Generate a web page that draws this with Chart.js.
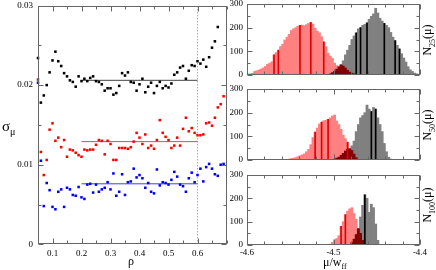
<!DOCTYPE html>
<html>
<head>
<meta charset="utf-8">
<script src="https://cdn.jsdelivr.net/npm/chart.js@4.4.1/dist/chart.umd.min.js"></script>
<style>
  body { margin: 0; background: #fff; }
  #wrap { position: relative; width: 436px; height: 270px; overflow: hidden; font-family: "Liberation Serif", serif; }
  canvas { position: absolute; }
  .lab { position: absolute; color: #000; white-space: nowrap; line-height: 1; font-size: 12px; }
  .lab sub { font-size: 8px; }
  .rot { transform: translate(-50%, -50%) rotate(-90deg); }
</style>
</head>
<body>
<div id="wrap">
  <canvas id="left" width="232" height="270" style="left:0;top:0"></canvas>
  <canvas id="n25" width="210" height="80" style="left:222px;top:0"></canvas>
  <canvas id="n50" width="210" height="80" style="left:222px;top:85px"></canvas>
  <canvas id="n100" width="210" height="100" style="left:222px;top:170px"></canvas>
  <div class="lab" style="left:2px;top:119px;font-size:15px">σ<sub style="font-size:10px">μ</sub></div>
  <div class="lab" style="left:128px;top:255px">ρ</div>
  <div class="lab" style="left:323px;top:256px">μ/w<sub>ff</sub></div>
  <div class="lab rot" style="left:429px;top:40px">N<sub>25</sub>(μ)</div>
  <div class="lab rot" style="left:429px;top:125px">N<sub>50</sub>(μ)</div>
  <div class="lab rot" style="left:429px;top:205px">N<sub>100</sub>(μ)</div>
</div>
<script>
// left panel: sigma_mu vs rho
const rho = [0.05, 0.06, 0.07, 0.08, 0.09, 0.10, 0.11, 0.12, 0.13, 0.14, 0.15, 0.16, 0.17,
  0.18, 0.19, 0.20, 0.21, 0.22, 0.23, 0.24, 0.25, 0.26, 0.27, 0.28, 0.29, 0.30, 0.31, 0.32,
  0.33, 0.34, 0.35, 0.36, 0.37, 0.38, 0.39, 0.40, 0.41, 0.42, 0.43, 0.44, 0.45, 0.46, 0.47,
  0.48, 0.49, 0.50, 0.51, 0.52, 0.53, 0.54, 0.55, 0.56, 0.57, 0.58, 0.59, 0.60, 0.61, 0.62,
  0.63, 0.64, 0.65, 0.66, 0.67, 0.68, 0.69];

const sigma25 = [0.0234, 0.0178, 0.0187, 0.0200, 0.0216, 0.0231, 0.0242, 0.0230, 0.0224, 0.0215,
  0.0211, 0.0206, 0.0204, 0.0198, 0.0211, 0.0205, 0.0208, 0.0205, 0.0209, 0.0211, 0.0205, 0.0204,
  0.0201, 0.0193, 0.0196, 0.0196, 0.0188, 0.0190, 0.0199, 0.0215, 0.0212, 0.0216, 0.0204, 0.0203,
  0.0193, 0.0201, 0.0208, 0.0191, 0.0198, 0.0203, 0.0190, 0.0199, 0.0204, 0.0196, 0.0199, 0.0197,
  0.0202, 0.0213, 0.0216, 0.0222, 0.0224, 0.0208, 0.0218, 0.0225, 0.0224, 0.0230, 0.0227, 0.0232,
  0.0223, 0.0235, 0.0247, 0.0255, 0.0273, null, null];

const sigma50 = [0.0207, 0.0116, 0.0087, 0.0106, 0.0144, 0.0152, 0.0130, 0.0134, 0.0122, 0.0131,
  0.0110, 0.0119, 0.0118, 0.0115, 0.0112, 0.0110, 0.0119, 0.0118, 0.0119, 0.0119, 0.0125, 0.0131,
  0.0130, 0.0113, 0.0130, 0.0126, 0.0106, 0.0106, 0.0121, 0.0121, 0.0121, 0.0120, 0.0122, 0.0129,
  0.0140, 0.0134, 0.0126, 0.0138, 0.0121, 0.0124, 0.0120, 0.0131, 0.0156, 0.0140, 0.0135, 0.0131,
  0.0121, 0.0124, 0.0134, 0.0124, 0.0145, 0.0159, 0.0142, 0.0146, 0.0140, 0.0137, 0.0137, 0.0138,
  0.0152, 0.0153, 0.0149, 0.0159, 0.0172, 0.0176, 0.0186];

const sigma100 = [0.0203, 0.0105, 0.0048, 0.0077, 0.0068, 0.0047, 0.0044, 0.0066, 0.0069, 0.0047,
  0.0071, 0.0069, 0.0062, 0.0061, 0.0072, 0.0059, 0.0057, 0.0075, 0.0076, 0.0065, 0.0075, 0.0066,
  0.0069, 0.0071, 0.0078, 0.0069, 0.0089, 0.0061, 0.0066, 0.0088, 0.0062, 0.0078, 0.0079, 0.0095,
  0.0084, 0.0087, 0.0083, 0.0071, 0.0077, 0.0066, 0.0064, 0.0094, 0.0074, 0.0078, 0.0077, 0.0075,
  0.0081, 0.0091, 0.0085, 0.0075, 0.0073, 0.0066, 0.0083, 0.0090, 0.0078, 0.0087, 0.0095, 0.0079,
  0.0097, 0.0101, 0.0095, 0.0088, 0.0086, 0.0100, 0.0101];

// plateau averages between rho = 0.2 and 0.6, and the cut at 0.6
const plateauRho = [0.2, 0.6];
const plateau25 = 0.0206;
const plateau50 = 0.0129;
const plateau100 = 0.0076;
const cutRho = 0.6;

// right panels: histograms N(mu), bins of 0.0025 starting at -4.6
const binLo = -4.6;
const binW = 0.0025;

const red25From = 0;
const red25 = [4, 5, 7, 15, 18, 21, 25, 30, 36, 45, 50, 56, 85, 95, 105, 120, 130, 148, 160, 172,
  188, 195, 200, 206, 210, 211, 208, 213, 218, 222, 215, 197, 185, 178, 162, 140, 120, 92, 80, 70,
  50, 40, 33, 22, 15, 8, 4];
const gray25From = 43;
const gray25 = [45, 60, 85, 105, 125, 150, 165, 178, 195, 200, 210, 214, 220, 235, 248, 258, 282,
  262, 240, 228, 218, 210, 200, 180, 160, 145, 125, 110, 90, 72, 55, 35, 22, 15, 8, 5, 3];
const dark25From = 38;
const dark25 = [5, 10, 15, 25, 35, 42, 38, 30, 20, 12, 8, 5, 3];
const redLines25 = [12, 14, 24, 29, 35];
const grayLines25 = [50, 52, 55, 63, 68, 70];

const red50From = 19;
const red50 = [4, 6, 8, 10, 14, 18, 22, 26, 35, 45, 65, 95, 118, 135, 152, 160, 166, 168, 172, 178,
  186, 190, 165, 150, 130, 105, 90, 75, 45, 25, 8];
const gray50From = 47;
const gray50 = [30, 60, 80, 120, 150, 178, 188, 200, 232, 215, 205, 222, 215, 178, 150, 120, 70, 35, 12, 4];
const dark50From = 40;
const dark50 = [4, 8, 12, 20, 28, 38, 45, 48, 40, 25, 10];
const redLines50 = [31, 34, 37, 46];
const grayLines50 = [57, 59];

const red100From = 38;
const red100 = [4, 12, 22, 28, 40, 80, 100, 130, 145, 155, 160, 135, 110, 70, 30];
const gray100From = 50;
const gray100 = [20, 60, 120, 170, 215, 200, 140, 175, 160, 90, 20];
const dark100From = 48;
const dark100 = [10, 25, 45, 70, 50, 20, 5];
const redLines100 = [43, 45];
const grayLines100 = [54];

const FONT = { family: 'Liberation Serif', size: 9 };

// frame with inward ticks on all four sides
const frameTicks = {
  id: 'frameTicks',
  afterDraw(chart) {
    const ctx = chart.ctx, a = chart.chartArea;
    const l = Math.round(a.left) + 0.5, r = Math.round(a.right) - 0.5;
    const t = Math.round(a.top) + 0.5, b = Math.round(a.bottom) - 0.5;
    const sx = chart.scales.x, sy = chart.scales.y;
    ctx.save();
    ctx.strokeStyle = '#666';
    ctx.lineWidth = 1;
    ctx.beginPath();
    sx.ticks.forEach(tk => {
      const p = Math.round(sx.getPixelForValue(tk.value)) + 0.5;
      const len = tk.label ? 5 : 3;
      ctx.moveTo(p, b); ctx.lineTo(p, b - len);
      ctx.moveTo(p, t); ctx.lineTo(p, t + len);
    });
    sy.ticks.forEach(tk => {
      const p = Math.round(sy.getPixelForValue(tk.value)) + 0.5;
      const len = tk.label ? 5 : 3;
      ctx.moveTo(l, p); ctx.lineTo(l + len, p);
      ctx.moveTo(r, p); ctx.lineTo(r - len, p);
    });
    ctx.stroke();
    ctx.strokeRect(l, t, r - l, b - t);
    ctx.restore();
  }
};

function fixY(w) {
  return function (s) { s.width = w; s.paddingTop = 0; s.paddingBottom = 0; };
}
function fixX(h) {
  return function (s) { s.height = h; s.paddingLeft = 0; s.paddingRight = 0; };
}

function points(ys) {
  const out = [];
  rho.forEach((r, i) => { if (ys[i] !== null) out.push({ x: r, y: ys[i] }); });
  return out;
}
function dots(ys, color) {
  return { data: points(ys), backgroundColor: color, borderWidth: 0, pointStyle: 'rect',
    pointRadius: 1.8, clip: false };
}
function flat(v, color) {
  return { data: plateauRho.map(r => ({ x: r, y: v })), showLine: true, borderColor: color,
    borderWidth: 1, pointRadius: 0 };
}

new Chart(document.getElementById('left'), {
  type: 'scatter',
  data: {
    datasets: [
      dots(sigma25, '#000'),
      dots(sigma50, '#ff0000'),
      dots(sigma100, '#0000ff'),
      flat(plateau25, '#444'),
      flat(plateau50, '#ff4040'),
      flat(plateau100, '#4040ff'),
      { data: [{ x: cutRho, y: 0 }, { x: cutRho, y: 0.03 }], showLine: true, borderColor: '#888',
        borderWidth: 1, borderDash: [1, 2], pointRadius: 0 }
    ]
  },
  options: {
    responsive: false,
    animation: false,
    layout: { padding: { left: 0, top: 5.5, right: 5.5, bottom: 0 } },
    plugins: { legend: { display: false }, tooltip: { enabled: false } },
    scales: {
      x: {
        type: 'linear', min: 0.05, max: 0.7,
        grid: { display: false, drawTicks: false }, border: { display: false },
        ticks: {
          stepSize: 0.05, autoSkip: false, maxRotation: 0, padding: 4, color: '#000', font: FONT,
          callback: v => { const k = Math.round(v * 100); return (k % 10 === 0 && k < 70) ? v.toFixed(1) : ''; }
        },
        afterFit: fixX(25.7)
      },
      y: {
        min: 0, max: 0.03,
        grid: { display: false, drawTicks: false }, border: { display: false },
        ticks: {
          stepSize: 0.005, autoSkip: false, padding: 5, color: '#000', font: FONT,
          callback: v => { const k = Math.round(v * 1000); return k % 10 === 0 ? (k === 0 ? '0' : v.toFixed(2)) : ''; }
        },
        afterFit: fixY(38)
      }
    }
  },
  plugins: [frameTicks]
});

function center(i) { return binLo + (i + 0.5) * binW; }
function bars(from, counts) { return counts.map((c, k) => ({ x: center(from + k), y: c })); }
function lines(from, counts, idx) { return idx.map(i => ({ x: center(i), y: counts[i - from] })); }

function histogram(id, red, redFrom, gray, grayFrom, dark, darkFrom, redLines, grayLines, padTop, xH, showX) {
  const common = { grouped: false, barPercentage: 1, categoryPercentage: 1, borderWidth: 0 };
  new Chart(document.getElementById(id), {
    type: 'bar',
    data: {
      datasets: [
        Object.assign({ data: lines(grayFrom, gray, grayLines), backgroundColor: '#000', barThickness: 1, order: 0 }, common),
        Object.assign({ data: lines(redFrom, red, redLines), backgroundColor: '#e00000', barThickness: 1, order: 0 }, common),
        Object.assign({ data: bars(darkFrom, dark), backgroundColor: '#800000', order: 1 }, common),
        Object.assign({ data: bars(grayFrom, gray), backgroundColor: '#808080', order: 2 }, common),
        Object.assign({ data: bars(redFrom, red), backgroundColor: '#ff8080', order: 3 }, common)
      ]
    },
    options: {
      responsive: false,
      animation: false,
      layout: { padding: { left: 0, top: padTop, right: 12, bottom: 0 } },
      plugins: { legend: { display: false }, tooltip: { enabled: false } },
      scales: {
        x: {
          type: 'linear', min: -4.6, max: -4.4, offset: false,
          grid: { display: false, drawTicks: false, offset: false }, border: { display: false },
          ticks: {
            display: showX, stepSize: 0.02, autoSkip: false, maxRotation: 0, padding: 2, color: '#000', font: FONT,
            callback: v => { const k = Math.round(v * 100); return k % 10 === 0 ? v.toFixed(1) : ''; }
          },
          afterFit: fixX(xH)
        },
        y: {
          min: 0, max: 300,
          grid: { display: false, drawTicks: false }, border: { display: false },
          ticks: {
            stepSize: 50, autoSkip: false, padding: 4, color: '#000', font: FONT,
            callback: v => (v % 100 === 0 ? String(v) : '')
          },
          afterFit: fixY(25)
        }
      }
    },
    plugins: [frameTicks]
  });
}

histogram('n25', red25, red25From, gray25, gray25From, dark25, dark25From, redLines25, grayLines25, 4, 5, false);
histogram('n50', red50, red50From, gray50, gray50From, dark50, dark50From, redLines50, grayLines50, 4, 5, false);
histogram('n100', red100, red100From, gray100, gray100From, dark100, dark100From, redLines100, grayLines100, 5, 25, true);
</script>
</body>
</html>
